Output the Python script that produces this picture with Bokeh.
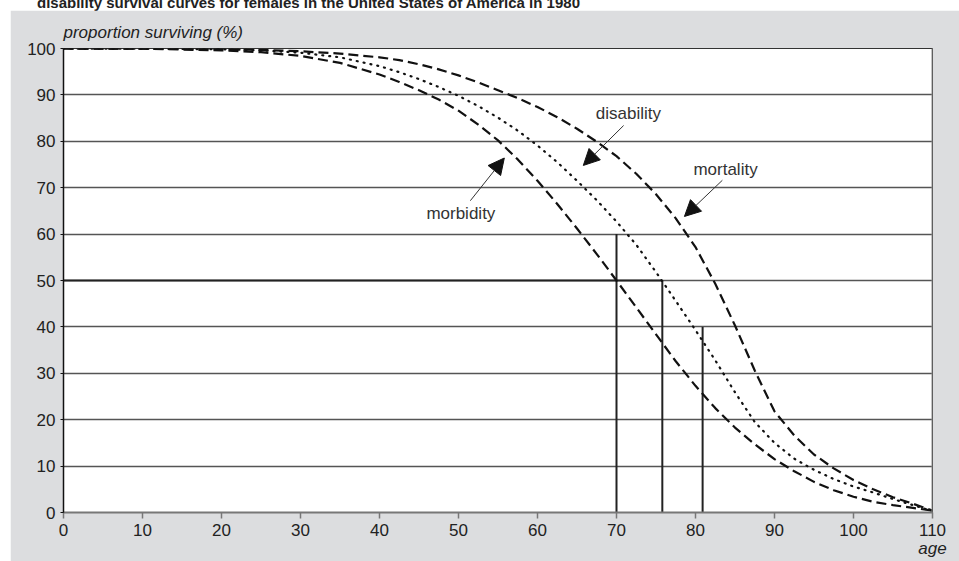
from bokeh.plotting import figure
from bokeh.models import (Range1d, FixedTicker, Label, Arrow, NormalHead, Span, Div, Spacer)
from bokeh.layouts import column, row
from bokeh.embed import file_html
from bokeh.resources import INLINE

# ---------------- data ----------------
title_text = "disability survival curves for females in the United States of America in 1980"
y_title = "proportion surviving (%)"
x_title = "age"
ages = [0, 10, 20, 25, 30, 35, 40, 42.5, 45, 47.5, 50, 52.5, 55, 57.5, 60, 62.5, 65,
        67.5, 70, 72.5, 75, 77.5, 80, 82.5, 85, 87.5, 90, 92.5, 95, 97.5, 100, 102.5,
        105, 107.5, 110]
mortality = [100, 99.95, 99.85, 99.7, 99.4, 98.9, 98.1, 97.5, 96.6, 95.5, 94.2, 92.7,
             91.0, 89.3, 87.4, 85.2, 82.7, 79.9, 76.8, 73.0, 68.6, 63.4, 57.2, 49.3,
             40.3, 30.6, 21.8, 16.6, 12.5, 9.5, 7.0, 5.0, 3.3, 1.9, 0.4]
disability = [100, 99.95, 99.85, 99.6, 99.1, 98.1, 96.2, 94.9, 93.4, 91.7, 89.8, 87.6,
              85.1, 82.3, 79.1, 75.5, 71.5, 67.3, 62.7, 57.7, 51.8, 45.6, 39.3, 32.8,
              25.9, 19.5, 15.0, 11.6, 9.2, 7.2, 5.6, 4.3, 2.9, 1.6, 0.3]
morbidity = [100, 99.95, 99.6, 99.2, 98.4, 96.9, 94.4, 92.8, 91.0, 89.0, 86.6, 83.6,
             80.2, 76.1, 71.5, 66.5, 61.2, 55.7, 50.0, 44.2, 38.4, 32.6, 27.3, 22.5,
             18.3, 14.7, 11.5, 8.9, 6.6, 4.8, 3.4, 2.3, 1.6, 1.0, 0.4]
ref_ages = [70.0, 75.8, 80.9]      # vertical reference lines (age)
ref_tops = [60, 50, 40]            # their heights (%)
ref_level = 50                     # horizontal reference line (%)
x_ticks = list(range(0, 111, 10))
y_ticks = list(range(0, 101, 10))
curve_names = ["disability", "mortality", "morbidity"]

# ---------------- styling ----------------
FONT = "Liberation Sans"
BG = "#dcdddf"
INK = "#222222"

p = figure(width=949, height=551, output_backend="svg", toolbar_location=None,
           x_range=Range1d(0, 110), y_range=Range1d(0, 100),
           min_border_left=53, min_border_right=27, min_border_top=38,
           min_border_bottom=49)
p.border_fill_color = BG
p.background_fill_color = "white"
p.outline_line_color = "#333333"
p.outline_line_width = 1

p.title.text = y_title
p.title.align = "left"
p.title.text_font = FONT
p.title.text_font_size = "17px"
p.title.text_font_style = "italic"
p.title.text_color = INK
p.title.standoff = 13

p.xaxis.ticker = FixedTicker(ticks=x_ticks)
p.yaxis.ticker = FixedTicker(ticks=y_ticks)
p.xgrid.visible = False
p.ygrid.ticker = FixedTicker(ticks=y_ticks)
p.ygrid.grid_line_color = "#555555"
p.ygrid.grid_line_width = 1.3

for ax in (p.xaxis, p.yaxis):
    ax.major_label_text_font = FONT
    ax.major_label_text_font_size = "17px"
    ax.major_label_text_color = INK
    ax.minor_tick_line_color = None
    ax.major_tick_in = 0
    ax.major_label_standoff = 5

p.xaxis.axis_label = x_title
p.xaxis.axis_label_align = "end"
p.xaxis.axis_label_standoff = 0
p.xaxis.axis_label_text_font = FONT
p.xaxis.axis_label_text_font_size = "17px"
p.xaxis.axis_label_text_font_style = "italic"
p.xaxis.axis_label_text_color = INK

p.xaxis.axis_line_color = "#777777"
p.xaxis.axis_line_width = 2
p.xaxis.major_tick_line_color = "#777777"
p.xaxis.major_tick_line_width = 1.5
p.xaxis.major_tick_out = 6
p.yaxis.axis_line_color = "#111111"
p.yaxis.axis_line_width = 1.5
p.yaxis.major_tick_line_color = "#111111"
p.yaxis.major_tick_out = 3

p.add_layout(Span(location=110, dimension="height", line_color="#8a8a8a", line_width=2))

# reference lines
p.segment(x0=[0], y0=[ref_level], x1=[ref_ages[1]], y1=[ref_level],
          line_color="#222222", line_width=2)
p.segment(x0=ref_ages, y0=[0] * len(ref_ages), x1=ref_ages, y1=ref_tops,
          line_color="#222222", line_width=2)

# curves
p.line(ages, mortality, line_color="#111111", line_width=2.2, line_dash="10 5")
p.line(ages, morbidity, line_color="#111111", line_width=2.2, line_dash="10 5")
p.line(ages, disability, line_color="#111111", line_width=2.2, line_dash="1 6",
       line_cap="round")

# curve labels and arrows
label_pos = {"disability": (71.5, 86.0), "mortality": (83.8, 73.9), "morbidity": (50.3, 64.4)}
arrow_pos = {"disability": ((70.9, 83.4), (65.8, 74.8)),
             "mortality": ((83.4, 71.6), (78.6, 63.8)),
             "morbidity": ((51.5, 67.2), (55.8, 76.4))}
for name in curve_names:
    lx, ly = label_pos[name]
    p.add_layout(Label(x=lx, y=ly, text=name, text_align="center", text_baseline="middle",
                       text_font=FONT, text_font_size="17px", text_color="#333333"))
    (xs, ys), (xe, ye) = arrow_pos[name]
    p.add_layout(Arrow(end=NormalHead(size=16, fill_color="#111111", line_color="#111111"),
                       x_start=xs, y_start=ys, x_end=xe, y_end=ye,
                       line_color="#333333", line_width=1))

title = Div(text=('<div style="position:relative;top:-5px;left:37px;white-space:nowrap;'
                  'font-family:\'Liberation Sans\',Arial,sans-serif;font-weight:bold;'
                  'font-size:15px;line-height:16px;color:#222">' + title_text + '</div>'),
            width=959, height=10, margin=0)

layout = column(title, row(Spacer(width=10, height=551), p, spacing=0), spacing=0)
open("out.html", "w").write(file_html(layout, INLINE))
